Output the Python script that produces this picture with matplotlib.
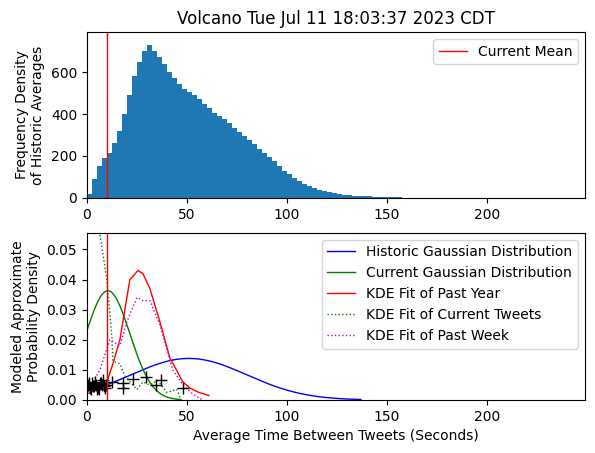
import matplotlib
matplotlib.use('Agg')
import matplotlib.pyplot as plt
import numpy as np

# histogram of historic averages, 2.5 s bins starting at 0
hist_counts = [20, 90, 150, 190, 215, 260, 320, 400, 490, 580, 650, 700, 730, 700, 670, 640,
               600, 570, 545, 520, 505, 490, 470, 450, 430, 405, 390, 375, 355, 335, 315, 295,
               275, 255, 235, 215, 195, 175, 150, 130, 112, 95, 80, 68, 58, 48, 40, 34,
               28, 23, 19, 16, 13, 11, 9, 8, 7, 6, 5, 4, 4, 3, 3, 2, 2, 2, 1.5, 1.5,
               1, 1, 1, 1, 1, 1, 0.8, 0.8, 0.6, 0.6, 0.5, 0.5, 0.5, 0.5, 0.4, 0.4, 0.3, 0.3,
               0.3, 0.3, 0.2, 0.2, 0.2, 0.2, 0.1, 0.1]
bin_width = 2.5
current_mean = 10

hist_mu, hist_sigma = 51, 28.9
cur_mu, cur_sigma = 10.5, 11

year_x = [0, 5, 10, 13, 16.5, 19, 21.5, 23, 25.5, 28, 31.5, 36.5, 41.5, 48, 51.5, 56, 61]
year_y = [0.002, 0.0035, 0.006, 0.012, 0.02, 0.03, 0.040, 0.041, 0.043, 0.042, 0.037, 0.026,
          0.014, 0.006, 0.004, 0.0025, 0.0015]
week_x = [0, 3, 6.5, 11.5, 16.5, 20, 25, 28, 31.5, 36.5, 43, 48, 53, 58]
week_y = [0.003, 0.006, 0.010, 0.020, 0.018, 0.026, 0.034, 0.033, 0.033, 0.025, 0.010,
          0.005, 0.002, 0.0]
cur_x = [0, 3, 6.5, 10, 12.5, 13, 16.5, 19, 21.5, 25, 28, 31.5, 35.5, 40, 45, 47]
cur_y = [0.07, 0.06, 0.055, 0.04, 0.021, 0.013, 0.012, 0.008, 0.006, 0.0035, 0.006, 0.005,
         0.0065, 0.0025, 0.0035, 0.0]

tweet_x = [0.5, 1.5, 2.5, 3.5, 4.5, 5.5, 6.5, 7.5, 8.5, 9.5, 2, 4, 6, 8, 1, 3, 5, 7, 9,
           12.5, 18, 18, 23, 29.5, 34.5, 37, 48]
tweet_y = [0.005, 0.004, 0.0055, 0.0045, 0.005, 0.004, 0.0055, 0.005, 0.0045, 0.005,
           0.0035, 0.006, 0.0035, 0.0065, 0.0055, 0.0045, 0.0035, 0.0055, 0.004,
           0.006, 0.0055, 0.004, 0.007, 0.0077, 0.005, 0.0065, 0.004]


def gauss(x, mu, sigma):
    return np.exp(-0.5 * ((x - mu) / sigma) ** 2) / (sigma * np.sqrt(2 * np.pi))


fig = plt.figure(figsize=(5.95, 4.53), dpi=100)
ax1 = fig.add_axes([0.146, 0.563, 0.837, 0.366])
ax2 = fig.add_axes([0.146, 0.117, 0.837, 0.369])

edges = np.arange(len(hist_counts)) * bin_width
ax1.bar(edges, hist_counts, width=bin_width, align='edge', color='#1f77b4', linewidth=0)
ax1.axvline(current_mean, color='r', lw=1, label='Current Mean')
ax1.set_xlim(0, 249)
ax1.set_ylim(0, 790)
ax1.set_yticks([0, 200, 400, 600])
ax1.set_ylabel('Frequency Density\nof Historic Averages')
ax1.set_title('Volcano Tue Jul 11 18:03:37 2023 CDT')
ax1.legend(loc='upper right')

xs = np.linspace(0, 137, 300)
ax2.plot(xs, gauss(xs, hist_mu, hist_sigma), color='b', lw=1, label='Historic Gaussian Distribution')
xs2 = np.linspace(0, 47, 200)
ax2.plot(xs2, gauss(xs2, cur_mu, cur_sigma), color='g', lw=1, label='Current Gaussian Distribution')
ax2.plot(year_x, year_y, color='r', lw=1, label='KDE Fit of Past Year')
ax2.plot(cur_x, cur_y, color='g', lw=1, ls=':', label='KDE Fit of Current Tweets')
ax2.plot(week_x, week_y, color='m', lw=1, ls=':', label='KDE Fit of Past Week')
ax2.plot(tweet_x, tweet_y, 'k+', ms=8)
ax2.axvline(current_mean, color='r', lw=1)
ax2.set_xlim(0, 249)
ax2.set_ylim(0, 0.0555)
ax2.set_xlabel('Average Time Between Tweets (Seconds)')
ax2.set_ylabel('Modeled Approximate\nProbability Density')
ax2.legend(loc='upper right')

fig.savefig('out.png')
